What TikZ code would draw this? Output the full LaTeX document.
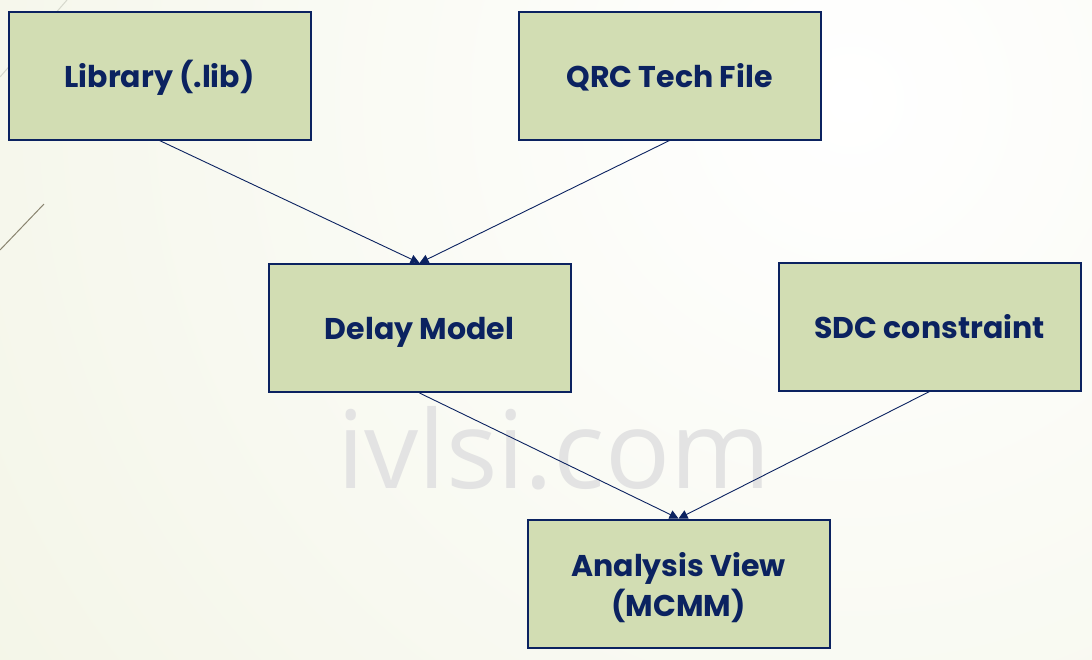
\documentclass[tikz,border=0pt]{standalone}
\usepackage{fontspec}
\setmainfont{Poppins}
\newfontfamily\wmfont{Open Sans}
\usetikzlibrary{arrows.meta}
\definecolor{boxfill}{HTML}{D2DDB3}
\definecolor{navy}{HTML}{0B2260}
\definecolor{bgtint}{HTML}{F1F3E2}
\definecolor{wmgray}{HTML}{E3E3E3}
\definecolor{decodark}{HTML}{8A8570}
\definecolor{decolight}{HTML}{D6D8CC}
\tikzset{
  flowbox/.style={draw=navy, line width=2pt, fill=boxfill, minimum width=302pt, minimum height=128pt,
    inner sep=0pt, align=center, text=navy, font=\bfseries\fontsize{30}{40}\selectfont,
    text height=23pt, text depth=0pt},
  flowarrow/.style={draw=navy, line width=0.9pt, -{Triangle[length=9pt,width=9pt]}},
  decoline/.style={line width=1pt}
}
\begin{document}
\begin{tikzpicture}[x=1pt,y=-1pt]
\useasboundingbox (0,0) rectangle (1092,659);
\begin{scope}
\clip (0,0) rectangle (1092,659);
\shade[inner color=white, outer color=bgtint] (850,100) circle (1300);
\end{scope}
\draw[decoline, draw=decolight] (0,77) -- (67,0);
\draw[decoline, draw=decodark] (0,250) -- (44,204);
\node[text=wmgray, font=\wmfont\fontsize{108}{120}\selectfont, anchor=base] (wm) at (554,488) {ivlsi.com};
\node[flowbox] (lib) at (159.5,75.5) {Library (.lib)};
\node[flowbox] (qrc) at (669.5,75.5) {QRC Tech File};
\node[flowbox] (dly) at (419.5,328) {Delay Model};
\node[flowbox] (sdc) at (929.5,326.5) {SDC constraint};
\node[flowbox, text height=, text depth=] (ana) at (678.5,583.5)
  {\raisebox{-5pt}[\height][\depth]{\begin{tabular}{@{}c@{}}Analysis View\\(MCMM)\end{tabular}}};
\draw[flowarrow] (lib.south) -- (dly.north);
\draw[flowarrow] (qrc.south) -- (dly.north);
\draw[flowarrow] (dly.south) -- (ana.north);
\draw[flowarrow] (sdc.south) -- (ana.north);
\end{tikzpicture}
\end{document}
